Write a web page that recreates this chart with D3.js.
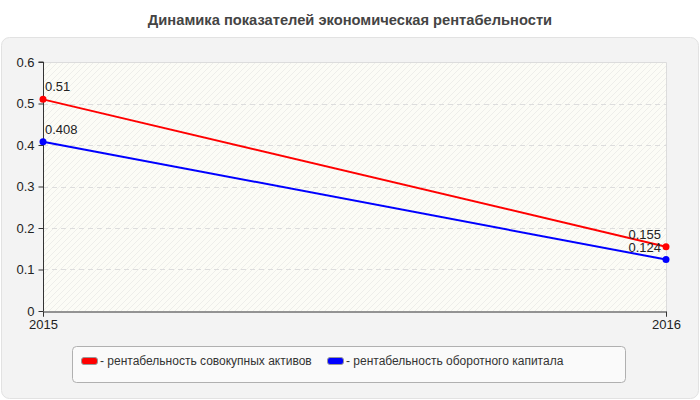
<!DOCTYPE html>
<html><head><meta charset="utf-8">
<script src="https://cdn.jsdelivr.net/npm/d3@7"></script>
<style>body{margin:0;background:#fff;}svg{display:block;font-family:"Liberation Sans",Arial,sans-serif;}</style>
</head><body>
<svg id="c" width="700" height="400"></svg>
<script>
const title = "Динамика показателей экономическая рентабельности";
const years = ["2015", "2016"];
const seriesNames = ["рентабельность совокупных активов", "рентабельность оборотного капитала"];
const seriesColors = ["#ff0000", "#0000ff"];
const assetsValues = [0.51, 0.155];
const capitalValues = [0.408, 0.124];
const yTicks = [0, 0.1, 0.2, 0.3, 0.4, 0.5, 0.6];

const series = [
  {name: seriesNames[0], color: seriesColors[0], values: assetsValues},
  {name: seriesNames[1], color: seriesColors[1], values: capitalValues}
];

const svg = d3.select("#c");
const defs = svg.append("defs");
const pat = defs.append("pattern").attr("id","hatch").attr("patternUnits","userSpaceOnUse")
  .attr("width",6).attr("height",6);
pat.append("rect").attr("width",6).attr("height",6).attr("fill","#fcfcf6");
pat.append("path").attr("d","M-1,1 l2,-2 M0,6 l6,-6 M5,7 l2,-2").attr("stroke","#eeeeea").attr("stroke-width",1);

// panel
svg.append("rect").attr("x",1.5).attr("y",37.5).attr("width",697).attr("height",361)
  .attr("rx",8).attr("fill","#f3f3f3").attr("stroke","#e2e2e2");

svg.append("text").attr("x",350).attr("y",25).attr("text-anchor","middle")
  .attr("font-size",14.7).attr("font-weight","bold").attr("fill","#444").text(title);

const m = {l:43, r:666, t:62, b:311};
const x = d3.scalePoint().domain(years).range([m.l, m.r]);
const y = d3.scaleLinear().domain([0, 0.6]).range([m.b, m.t]);

svg.append("rect").attr("x",m.l).attr("y",m.t).attr("width",m.r-m.l).attr("height",m.b-m.t)
  .attr("fill","url(#hatch)");
svg.append("path").attr("d",`M${m.l},${m.t+0.5}H${m.r+0.5}V${m.b}`).attr("fill","none").attr("stroke","#dcdcdc");

// grid
svg.append("g").selectAll("line").data(yTicks.filter(t=>t>0 && t<0.6)).join("line")
  .attr("x1",m.l).attr("x2",m.r).attr("y1",d=>Math.round(y(d))+0.5).attr("y2",d=>Math.round(y(d))+0.5)
  .attr("stroke","#dddddd").attr("stroke-dasharray","5,4");

// axes
const yAxis = svg.append("g").attr("transform",`translate(${m.l+0.5},0)`)
  .call(d3.axisLeft(y).tickValues(yTicks).tickFormat(d=>String(d)).tickSize(5).tickPadding(4));
const xAxis = svg.append("g").attr("transform",`translate(0,${m.b+0.5})`)
  .call(d3.axisBottom(x).tickSize(5).tickPadding(3));
[yAxis,xAxis].forEach(a=>{
  a.select(".domain").attr("stroke","#333");
  a.selectAll(".tick line").attr("stroke","#333");
  a.selectAll(".tick text").attr("font-size",13).attr("fill","#222").attr("font-family",'"Liberation Sans",Arial,sans-serif');
});
yAxis.select(".domain").attr("d",`M-5,${m.t}H0V${m.b}`);

const line = d3.line().x((d,i)=>x(years[i])).y(d=>y(d));
series.forEach(s=>{
  svg.append("path").datum(s.values).attr("d",line).attr("fill","none")
    .attr("stroke",s.color).attr("stroke-width",2);
  svg.append("g").selectAll("circle").data(s.values).join("circle")
    .attr("cx",(d,i)=>x(years[i])).attr("cy",d=>y(d)).attr("r",3.5).attr("fill",s.color);
  svg.append("g").selectAll("text").data(s.values).join("text")
    .attr("x",(d,i)=> i===0 ? x(years[i])+2 : x(years[i])-5)
    .attr("y",d=>y(d)-8)
    .attr("text-anchor",(d,i)=> i===0 ? "start" : "end")
    .attr("font-size",13).attr("fill","#222").text(d=>String(d));
});

// legend
const lg = svg.append("g");
lg.append("rect").attr("x",72.5).attr("y",346.5).attr("width",553).attr("height",36).attr("rx",4)
  .attr("fill","#fafafa").attr("stroke","#b0b0b0");
const legX = [81, 327];
series.forEach((s,i)=>{
  lg.append("rect").attr("x",legX[i]+0.5).attr("y",357.5).attr("width",16).attr("height",7).attr("rx",2.5)
    .attr("fill",s.color).attr("stroke","#999");
  lg.append("text").attr("x",legX[i]+19).attr("y",365).attr("font-size",12).attr("fill","#333")
    .text("- " + s.name);
});
</script>
</body></html>
